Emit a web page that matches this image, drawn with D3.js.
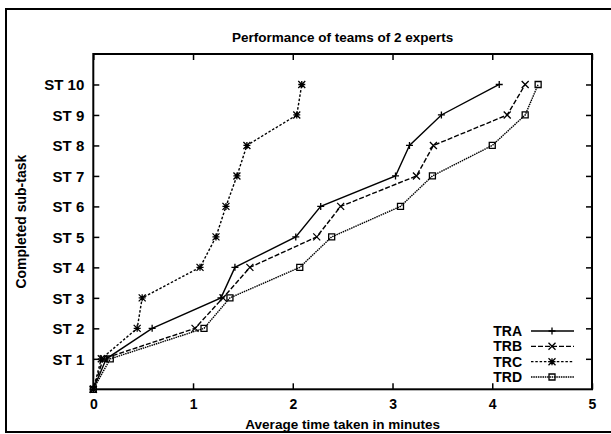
<!DOCTYPE html>
<html><head><meta charset="utf-8">
<script src="https://cdn.jsdelivr.net/npm/d3@7"></script>
<style>body{margin:0;background:#fff}svg{display:block}text{font-family:"Liberation Sans",Arial,sans-serif;font-weight:bold;fill:#000}</style>
</head><body>
<svg id="c" width="611" height="434"></svg>
<script>
const title = "Performance of teams of 2 experts";
const xLabel = "Average time taken in minutes";
const yLabel = "Completed sub-task";
const xTicks = [0, 1, 2, 3, 4, 5];
const yTicks = [1, 2, 3, 4, 5, 6, 7, 8, 9, 10];
const yTickLabels = ["ST 1","ST 2","ST 3","ST 4","ST 5","ST 6","ST 7","ST 8","ST 9","ST 10"];
const steps = [0, 1, 2, 3, 4, 5, 6, 7, 8, 9, 10];
const seriesNames = ["TRA", "TRB", "TRC", "TRD"];
const TRA = [0, 0.13, 0.59, 1.28, 1.42, 2.03, 2.28, 3.03, 3.17, 3.49, 4.07];
const TRB = [0, 0.10, 1.02, 1.30, 1.57, 2.24, 2.48, 3.24, 3.41, 4.15, 4.33];
const TRC = [0, 0.08, 0.44, 0.49, 1.07, 1.23, 1.33, 1.44, 1.54, 2.04, 2.09];
const TRD = [0, 0.17, 1.11, 1.37, 2.07, 2.39, 3.08, 3.40, 4.00, 4.33, 4.46];
const seriesData = [TRA, TRB, TRC, TRD];
const dashes = [null, "5,2", "2.5,1.8", "1.5,0.8"];
const markers = ["plus", "cross", "star", "square"];

const svg = d3.select("#c");
const L = 93.3, R = 592, T = 54, B = 389.3;
const x = d3.scaleLinear().domain([0, 5]).range([L, R]);
const y = d3.scaleLinear().domain([0, 11]).range([B, T]);

// outer frame
svg.append("rect").attr("x", 6).attr("y", 9).attr("width", 620).attr("height", 423)
  .attr("fill", "none").attr("stroke", "#000").attr("stroke-width", 2);

// title
svg.append("text").attr("x", (L + R) / 2).attr("y", 42).attr("text-anchor", "middle")
  .attr("font-size", 13.5).text(title);

// axes with inward ticks
const tl = 6;
const gB = svg.append("g").attr("transform", `translate(0,${B})`)
  .call(d3.axisBottom(x).tickValues(xTicks).tickSize(-tl).tickPadding(10).tickFormat(d3.format("d")));
const gT = svg.append("g").attr("transform", `translate(0,${T})`)
  .call(d3.axisTop(x).tickValues(xTicks).tickSize(-tl).tickFormat(""));
const gL = svg.append("g").attr("transform", `translate(${L},0)`)
  .call(d3.axisLeft(y).tickValues(yTicks).tickSize(-tl).tickPadding(9).tickFormat((d, i) => yTickLabels[i]));
const gR = svg.append("g").attr("transform", `translate(${R},0)`)
  .call(d3.axisRight(y).tickValues(yTicks).tickSize(-tl).tickFormat(""));
[gB, gT, gL, gR].forEach(g => {
  g.select(".domain").remove();
  g.selectAll("line").attr("stroke", "#000").attr("stroke-width", 1.5);
  g.selectAll("text").attr("font-family", "Liberation Sans, Arial, sans-serif").attr("font-weight", "bold");
});
gB.selectAll("text").attr("font-size", 14);
gL.selectAll("text").attr("font-size", 15).attr("dy", "0.36em");
svg.append("rect").attr("x", L).attr("y", T).attr("width", R - L).attr("height", B - T)
  .attr("fill", "none").attr("stroke", "#000").attr("stroke-width", 2);

// axis labels
svg.append("text").attr("transform", `translate(26,${(T + B) / 2}) rotate(-90)`)
  .attr("text-anchor", "middle").attr("font-size", 14).text(yLabel);
svg.append("text").attr("x", (L + R) / 2).attr("y", 429).attr("text-anchor", "middle")
  .attr("font-size", 13.5).text(xLabel);

function marker(g, type, cx, cy) {
  const s = 3.5;
  const p = g.append("path").attr("stroke", "#000").attr("stroke-width", 1.3).attr("fill", "none");
  if (type === "plus") p.attr("d", `M${cx - s},${cy}H${cx + s}M${cx},${cy - s}V${cy + s}`);
  else if (type === "cross") p.attr("d", `M${cx - s},${cy - s}L${cx + s},${cy + s}M${cx - s},${cy + s}L${cx + s},${cy - s}`);
  else if (type === "star") p.attr("d", `M${cx - s},${cy}H${cx + s}M${cx},${cy - s}V${cy + s}M${cx - s},${cy - s}L${cx + s},${cy + s}M${cx - s},${cy + s}L${cx + s},${cy - s}`);
  else p.attr("d", `M${cx - 3},${cy - 3}h6v6h-6Z`);
}

const line = d3.line().x(d => x(d[0])).y(d => y(d[1]));
seriesData.forEach((vals, i) => {
  const pts = vals.map((v, k) => [v, steps[k]]);
  svg.append("path").datum(pts).attr("d", line).attr("fill", "none")
    .attr("stroke", "#000").attr("stroke-width", 1.4)
    .attr("stroke-dasharray", dashes[i]);
  const g = svg.append("g");
  pts.forEach(p => marker(g, markers[i], x(p[0]), y(p[1])));
});

// legend
const legY = d3.scaleLinear().domain([0, 3]).range([331, 377]);
seriesNames.forEach((n, i) => {
  const ly = legY(i);
  svg.append("text").attr("x", 522).attr("y", ly).attr("dy", "0.36em").attr("text-anchor", "end")
    .attr("font-size", 14).text(n);
  svg.append("line").attr("x1", 531).attr("x2", 574).attr("y1", ly).attr("y2", ly)
    .attr("stroke", "#000").attr("stroke-width", 1.4).attr("stroke-dasharray", dashes[i]);
  marker(svg, markers[i], 552, ly);
});
</script>
</body></html>
